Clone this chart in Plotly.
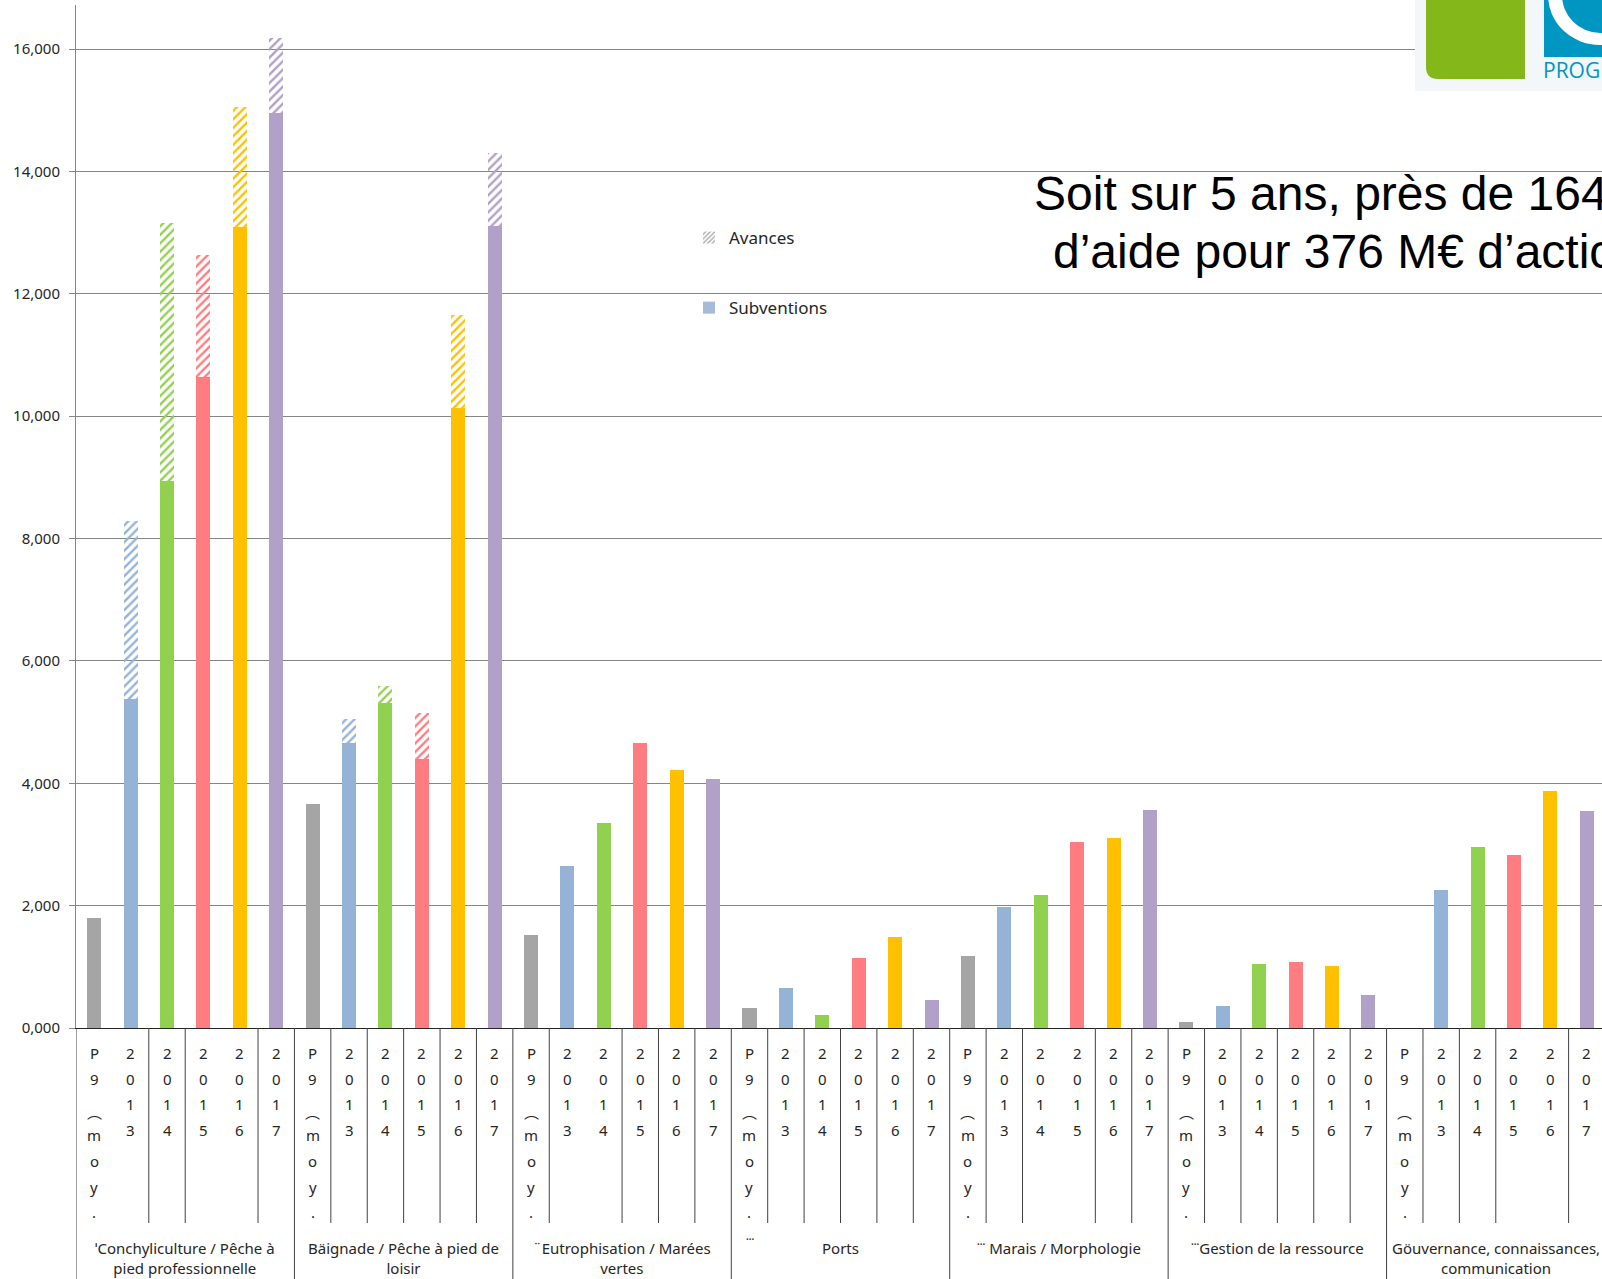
import plotly.graph_objects as go

# ---------------- data ----------------
group_labels = [
    "ˈConchyliculture / Pêche à<br>pied professionnelle",
    "Bäignade / Pêche à pied de<br>loisir",
    "¨Eutrophisation / Marées<br>vertes",
    "Ports",
    "˙˙˙ Marais / Morphologie",
    "˙˙˙Gestion de la ressource",
    "Göuvernance, connaissances,<br>communication",
]
periods = ["P9 (moy.", "2013", "2014", "2015", "2016", "2017"]
period_colors = ["#A5A5A5", "#95B3D7", "#92D050", "#FF7C80", "#FFC000", "#B1A0C7"]

subv_conchyliculture = [1790, 5380, 8940, 10640, 13090, 14960]
subv_baignade = [3660, 4655, 5315, 4400, 10140, 13110]
subv_eutrophisation = [1520, 2640, 3357, 4660, 4225, 4075]
subv_ports = [334, 651, 217, 1152, 1486, 451]
subv_marais = [1169, 1971, 2171, 3040, 3106, 3557]
subv_gestion = [100, 367, 1052, 1086, 1019, 534]
subv_gouvernance = [0, 2260, 2962, 2830, 3877, 3550]

av_conchyliculture = [0, 2904, 4210, 1990, 1960, 1220]
av_baignade = [0, 388, 273, 751, 1520, 1190]
av_eutrophisation = [0, 0, 0, 0, 0, 0]
av_ports = [0, 0, 0, 0, 0, 0]
av_marais = [0, 0, 0, 0, 0, 0]
av_gestion = [0, 0, 0, 0, 0, 0]
av_gouvernance = [0, 0, 0, 0, 0, 0]

subventions = [subv_conchyliculture, subv_baignade, subv_eutrophisation, subv_ports,
               subv_marais, subv_gestion, subv_gouvernance]
avances = [av_conchyliculture, av_baignade, av_eutrophisation, av_ports,
           av_marais, av_gestion, av_gouvernance]

y_tickvals = [0, 2000, 4000, 6000, 8000, 10000, 12000, 14000, 16000]
y_ticktext = ["0,000", "2,000", "4,000", "6,000", "8,000", "10,000", "12,000", "14,000", "16,000"]

title_line1 = "Soit sur 5 ans, près de 164 M€"
title_line2 = "d’aide pour 376 M€ d’actions"

# ---------------- layout geometry ----------------
W, H = 1602, 1279
PL, PR, PT, PB = 76, 1602, 5, 1028
NP = len(periods)
NCOL = NP * len(group_labels)
XMIN, XMAX = -0.5, NCOL - 0.5 - 3 / 36.4
YMAX = 16720


def px2x(px):
    return (px - PL) / (PR - PL)


def py2y(py):
    return (PB - py) / (PB - PT)


xs, sub_y, av_y, cols, col_labels = [], [], [], [], []
for g in range(len(group_labels)):
    for p in range(NP):
        xs.append(g * NP + p)
        sub_y.append(subventions[g][p])
        av_y.append(avances[g][p])
        cols.append(period_colors[p])
        col_labels.append(periods[p])

fig = go.Figure()
BW = 0.385
fig.add_trace(go.Bar(x=xs, y=sub_y, width=BW, marker=dict(color=cols, line=dict(width=0)),
                     showlegend=False, hoverinfo="skip"))
fig.add_trace(go.Bar(x=xs, y=av_y, width=BW,
                     marker=dict(color=cols, line=dict(width=0),
                                 pattern=dict(shape="/", fgcolor=cols, bgcolor="white",
                                              size=6, solidity=0.4, fillmode="replace")),
                     showlegend=False, hoverinfo="skip"))
# legend entries
fig.add_trace(go.Bar(x=[None], y=[None], name="Avances", legendgroup="a",
                     marker=dict(color="#A6A6A6", line=dict(width=0),
                                 pattern=dict(shape="/", fgcolor="#A6A6A6", bgcolor="white",
                                              size=4, solidity=0.4, fillmode="replace"))))
fig.add_trace(go.Bar(x=[None], y=[None], name="Subventions", legendgroup="b",
                     marker=dict(color="#A7BBD8", line=dict(width=0))))

shapes = []
annotations = []

# category dividers under the axis
hidden_dividers = [1, 4, 14, 27, 40]
for k in range(NCOL):
    xpos = k - 0.5
    if k % NP == 0:
        shapes.append(dict(type="line", xref="x", yref="paper", x0=xpos, x1=xpos,
                           y0=0, y1=py2y(1282), line=dict(color="#404040", width=1)))
    elif k not in hidden_dividers:
        shapes.append(dict(type="line", xref="x", yref="paper", x0=xpos, x1=xpos,
                           y0=0, y1=py2y(1223), line=dict(color="#404040", width=1)))

# vertical character labels
for c, lab in enumerate(col_labels):
    chars = [("︵" if ch == "(" else ch) for ch in lab if ch != " "]
    extra = 0
    for i, ch in enumerate(chars):
        if ch == "︵":
            yy = 1053 + 25.7 * i + 8
            extra = 5
        else:
            yy = 1053 + 25.7 * i + extra
        annotations.append(dict(x=xs[c], y=py2y(yy), xref="x", yref="paper", text=ch,
                                showarrow=False, xanchor="center", yanchor="middle",
                                font=dict(family="Noto Sans, Noto Sans CJK KR", size=15,
                                          color="#262626")))

# group labels
for g, gl in enumerate(group_labels):
    center = g * NP + (NP - 1) / 2
    annotations.append(dict(x=center, y=py2y(1236), xref="x", yref="paper", text=gl,
                            showarrow=False, xanchor="center", yanchor="top",
                            font=dict(family="Noto Sans, Noto Sans CJK KR", size=15,
                                      color="#262626")))
# stray dots in Ports label cell
annotations.append(dict(x=px2x(750), y=py2y(1243), xref="paper", yref="paper", text="˙˙˙",
                        showarrow=False, xanchor="center", yanchor="middle",
                        font=dict(family="Noto Sans", size=15, color="#262626")))

# title text (cut at right edge, as in the slide)
annotations.append(dict(x=px2x(1032), y=py2y(194), xref="paper", yref="paper", text=title_line1,
                        showarrow=False, xanchor="left", yanchor="middle",
                        font=dict(family="Liberation Sans, Arial", size=48, color="#000000")))
annotations.append(dict(x=px2x(1051), y=py2y(251), xref="paper", yref="paper", text=title_line2,
                        showarrow=False, xanchor="left", yanchor="middle",
                        font=dict(family="Liberation Sans, Arial", size=48, color="#000000")))

# logo (top-right)
shapes.append(dict(type="rect", xref="paper", yref="paper", x0=px2x(1415), x1=px2x(1610),
                   y0=py2y(91), y1=py2y(-5), fillcolor="#F3F7F9", line=dict(width=0), layer="above"))
r = 12
gx0, gx1, gy1 = px2x(1426), px2x(1525), py2y(79)
gytop = py2y(-5)
rx = r / (PR - PL)
ry = r / (PB - PT)
shapes.append(dict(type="path", xref="paper", yref="paper",
                   path=(f"M{gx0},{gytop} L{gx1},{gytop} L{gx1},{gy1} L{gx0 + rx},{gy1} "
                         f"Q{gx0},{gy1} {gx0},{gy1 + ry} Z"),
                   fillcolor="#84B81A", line=dict(width=0), layer="above"))
shapes.append(dict(type="rect", xref="paper", yref="paper", x0=px2x(1544), x1=px2x(1610),
                   y0=py2y(57), y1=py2y(-5), fillcolor="#0096C2", line=dict(width=0), layer="above"))
shapes.append(dict(type="circle", xref="paper", yref="paper", x0=px2x(1548), x1=px2x(1652),
                   y0=py2y(45), y1=py2y(-55), fillcolor="#FFFFFF", line=dict(width=0), layer="above"))
shapes.append(dict(type="circle", xref="paper", yref="paper", x0=px2x(1562), x1=px2x(1638),
                   y0=py2y(33), y1=py2y(-43), fillcolor="#0096C2", line=dict(width=0), layer="above"))
annotations.append(dict(x=px2x(1541), y=py2y(70), xref="paper", yref="paper", text="PROGRAMME",
                        showarrow=False, xanchor="left", yanchor="middle",
                        font=dict(family="Open Sans", size=21, color="#0096C2")))

fig.update_layout(
    width=W, height=H,
    margin=dict(l=PL, r=W - PR, t=PT, b=H - PB),
    paper_bgcolor="white", plot_bgcolor="white",
    barmode="stack",
    showlegend=True,
    legend=dict(x=px2x(689), y=py2y(220), xanchor="left", yanchor="top",
                traceorder="grouped", tracegroupgap=45, bgcolor="rgba(0,0,0,0)",
                font=dict(family="Noto Sans", size=17, color="#262626")),
    xaxis=dict(range=[XMIN, XMAX], showticklabels=False, showgrid=False, zeroline=False,
               showline=True, linecolor="#262626", linewidth=1, ticks=""),
    yaxis=dict(range=[0, YMAX], tickvals=y_tickvals, ticktext=y_ticktext,
               showgrid=True, gridcolor="#868686", gridwidth=1, zeroline=False,
               showline=True, linecolor="#868686", linewidth=1,
               ticks="outside", ticklen=6, tickcolor="#868686", ticklabelstandoff=6,
               tickfont=dict(family="Noto Sans", size=15, color="#262626")),
    shapes=shapes,
    annotations=annotations,
)

fig.write_html("out.html", config={"displayModeBar": False},
               post_script="document.body.style.margin='0';document.body.style.overflow='hidden';")
